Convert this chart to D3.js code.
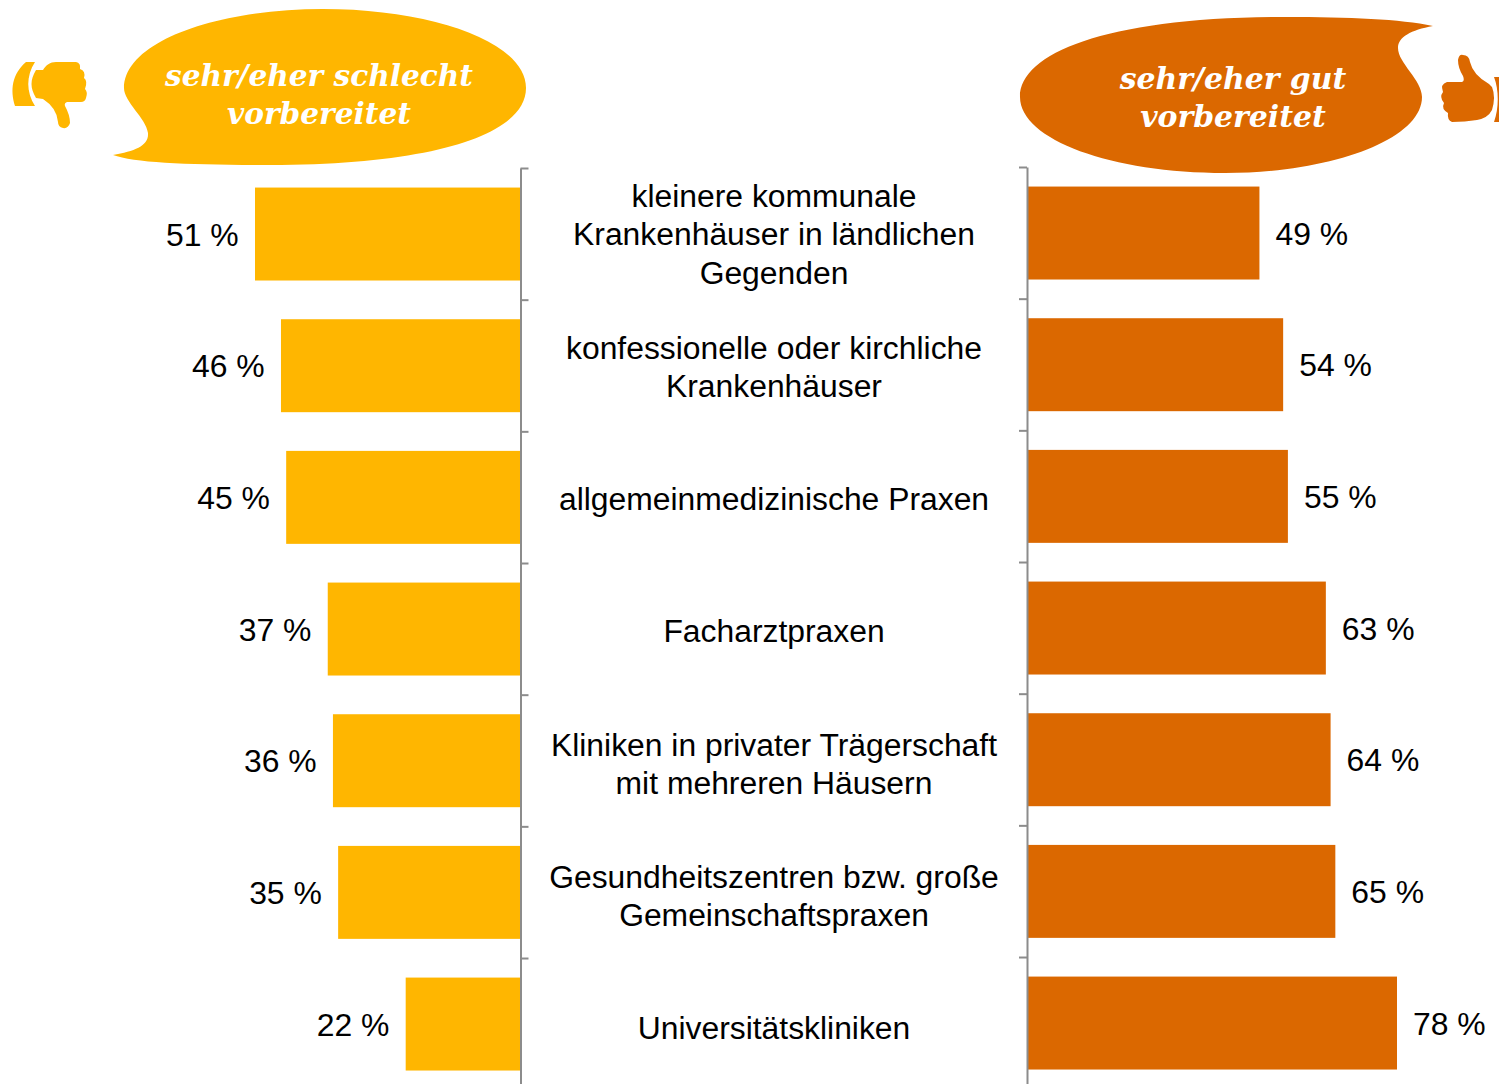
<!DOCTYPE html>
<html><head><meta charset="utf-8">
<script src="https://cdn.jsdelivr.net/npm/d3@7/dist/d3.min.js"></script>
<style>html,body{margin:0;padding:0;background:#fff;overflow:hidden}svg{display:block}</style>
</head><body><div id="chart"></div>
<script>
const categories = [
  ["kleinere kommunale","Krankenhäuser in ländlichen","Gegenden"],
  ["konfessionelle oder kirchliche","Krankenhäuser"],
  ["allgemeinmedizinische Praxen"],
  ["Facharztpraxen"],
  ["Kliniken in privater Trägerschaft","mit mehreren Häusern"],
  ["Gesundheitszentren bzw. große","Gemeinschaftspraxen"],
  ["Universitätskliniken"]
];
const schlecht = [51,46,45,37,36,35,22];
const gut = [49,54,55,63,64,65,78];
const headerLeft = ["sehr/eher schlecht","vorbereitet"];
const headerRight = ["sehr/eher gut","vorbereitet"];

const W=1499,H=1084, AMBER="#FFB600", ORANGE="#DB6800", GREY="#8c8c8c";
const svg=d3.select("#chart").append("svg").attr("width",W).attr("height",H).attr("viewBox",[0,0,W,H]);
const idx=d3.range(categories.length);
const STEP=131.67;
const band=top=>d3.scaleBand().domain(idx).range([top,top+STEP*7]).paddingInner(.294).paddingOuter(.147);
const yL=band(168.2), yR=band(167.2);
const xL=d3.scaleLinear().domain([0,51]).range([520,255]);
const xR=d3.scaleLinear().domain([0,78]).range([1027,1397]);
const yLabel=d3.scaleLinear().domain([0,6]).range([234.3,1028]);
const sans="'Liberation Sans',Arial,sans-serif", serif="'DejaVu Serif',serif";

svg.append("g").selectAll("rect").data(schlecht).join("rect")
  .attr("x",d=>xL(d)).attr("y",(d,i)=>yL(i)).attr("width",d=>xL(0)-xL(d)).attr("height",yL.bandwidth()).attr("fill",AMBER);
svg.append("g").selectAll("rect").data(gut).join("rect")
  .attr("x",xR(0)).attr("y",(d,i)=>yR(i)).attr("width",d=>xR(d)-xR(0)).attr("height",yR.bandwidth()).attr("fill",ORANGE);

const edge=top=>d3.scaleLinear().domain([0,7]).range([top,top+STEP*7]);
function axis(x,top,gen){
  const g=svg.append("g").attr("transform",`translate(${x},0)`).call(gen(edge(top)).tickValues(d3.range(8)).tickFormat("").tickSize(8).tickSizeOuter(0));
  g.selectAll("path,line").attr("stroke",GREY).attr("stroke-width",2);
}
axis(520.5,168,d3.axisRight);
axis(1027,167,d3.axisLeft);

svg.append("g").selectAll("text").data(schlecht).join("text")
  .attr("x",d=>xL(d)-16.3).attr("y",(d,i)=>yL(i)+yL.bandwidth()/2+0.6).attr("dy",".35em").attr("text-anchor","end")
  .attr("font-family",sans).attr("font-size",31.9).attr("fill","#000").text(d=>d+" %");
svg.append("g").selectAll("text").data(gut).join("text")
  .attr("x",d=>xR(d)+16).attr("y",(d,i)=>yR(i)+yR.bandwidth()/2+0.6).attr("dy",".35em").attr("text-anchor","start")
  .attr("font-family",sans).attr("font-size",31.9).attr("fill","#000").text(d=>d+" %");

const cat=svg.append("g").attr("font-family",sans).attr("font-size",31.85).attr("fill","#000").attr("text-anchor","middle");
categories.forEach((lines,i)=>{
  lines.forEach((t,j)=>{
    cat.append("text").attr("x",774).attr("y",yLabel(i)+(j-(lines.length-1)/2)*38.2+(lines.length==2?0.4:0)).attr("dy",".35em").text(t);
  });
});

svg.append("path").attr("fill",AMBER).attr("d","M113,155 C135,151 149,146 148,133 C146,118 124,102 124,88 C124,42 215,9 323,9 C432,9 526,42 526,88 C526,135 432,165 270,165 C190,165 135,163 113,155Z");
svg.append("path").attr("fill",ORANGE).attr("d","M1433,26 C1411,30 1398,37 1398,48 C1398,63 1422,80 1422,97 C1422,140 1330,173 1225,173 C1112,173 1020,140 1020,97 C1020,52 1110,17 1285,17 C1350,17 1400,19 1433,26Z");

function header(lines,cx,y0,size){
  lines.forEach((t,j)=>svg.append("text").attr("x",cx).attr("y",y0+j*38).attr("text-anchor","middle")
    .attr("font-family",serif).attr("font-style","italic").attr("font-weight","bold").attr("font-size",size).attr("fill","#fff").text(t));
}
header(headerLeft,319,86,29.6);
header(headerRight,1233,89,29.9);

// thumb down
svg.append("path").attr("fill",AMBER).attr("d","M26,62 L35,62 C26,76 26,92 35,106 L15,106 C10,90 12,74 26,62Z");
svg.append("path").attr("fill",AMBER).attr("d","M36,70 L43,70 C46,65 50,62 56,62 L76,62 Q81,63 80,69 Q86,71 84,78 Q88,81 85,89 Q88,92 86,98 Q85,102 81,102 L67,102 Q64,103 65,106 Q70,115 70,123 Q68,129 63,128 Q58,127 58,122 Q57,108 43,99 L36,98 C30,88 30,80 36,70Z");
// thumb up
svg.append("path").attr("fill",ORANGE).attr("d","M1458,60 Q1459,54 1463,55 Q1469,55 1470,62 Q1473,75 1489,84 L1492,87 Q1496,97 1492,110 Q1488,118 1477,120 Q1465,122 1452,122 Q1447,120 1448,113 Q1441,109 1444,103 Q1439,97 1443,92 Q1440,84 1447,82 L1462,82 Q1465,81 1463,76 Q1458,68 1458,60Z");
svg.append("path").attr("fill",ORANGE).attr("d","M1494,77 L1499,77 L1499,122 L1494,122 C1499,108 1499,90 1494,77Z");
</script></body></html>
